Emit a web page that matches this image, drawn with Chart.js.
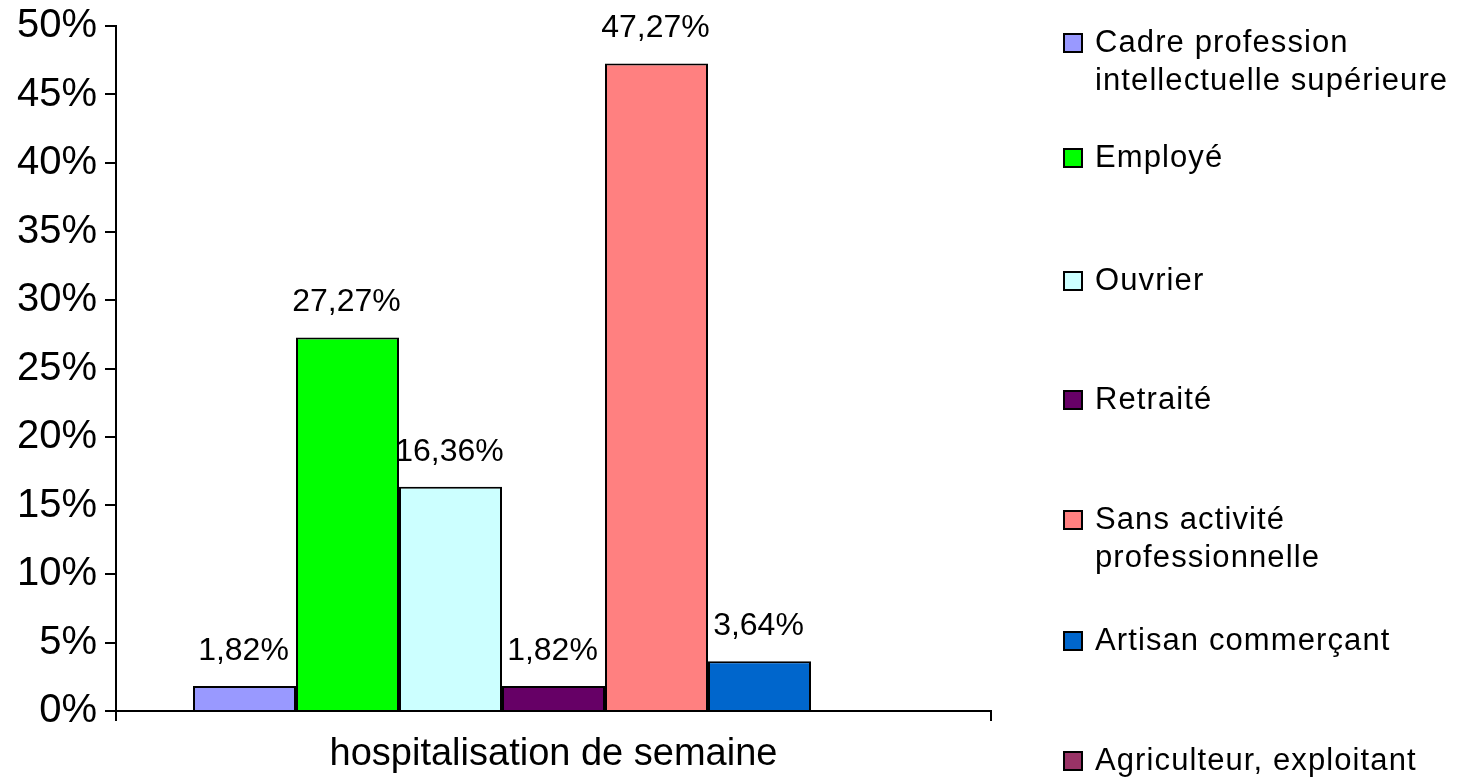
<!DOCTYPE html>
<html>
<head>
<meta charset="utf-8">
<script src="https://cdn.jsdelivr.net/npm/chart.js@4.4.1/dist/chart.umd.min.js"></script>
<style>
  html, body { margin: 0; padding: 0; background: #fff; }
  #wrap { position: relative; width: 1458px; height: 781px; }
  #legend { position: absolute; left: 1063px; top: 0; font-family: "Liberation Sans", Arial, sans-serif; font-size: 31px; letter-spacing: 1.1px; color: #000; }
  .item { position: absolute; left: 0; white-space: nowrap; line-height: 38px; }
  .box { position: absolute; left: 0; top: 10px; width: 16px; height: 16px; border: 2px solid #000; }
  .txt { position: absolute; left: 32px; top: 0; }
</style>
</head>
<body>
<div id="wrap">
  <canvas id="chart" width="1458" height="781"></canvas>
  <div id="legend"></div>
</div>
<script>
const categories = ['hospitalisation de semaine'];
const seriesNames = [
  ['Cadre profession', 'intellectuelle supérieure'],
  ['Employé'],
  ['Ouvrier'],
  ['Retraité'],
  ['Sans activité', 'professionnelle'],
  ['Artisan commerçant'],
  ['Agriculteur, exploitant']
];
const seriesValues = [1.82, 27.27, 16.36, 1.82, 47.27, 3.64, 0];
const seriesColors = ['#9999FF', '#00FF00', '#CCFFFF', '#660066', '#FF8080', '#0066CC', '#993366'];
const yTicks = [0, 5, 10, 15, 20, 25, 30, 35, 40, 45, 50];
const legendTops = [23, 138, 261, 380, 500, 621, 741];

const datasets = seriesNames.map((name, i) => ({
  label: name.join(' '),
  data: [seriesValues[i]],
  backgroundColor: seriesColors[i],
  borderColor: '#000',
  borderWidth: 2,
  borderSkipped: 'bottom'
}));

const valueLabels = {
  id: 'valueLabels',
  afterDatasetsDraw(chart) {
    const ctx = chart.ctx;
    ctx.save();
    ctx.font = '32px "Liberation Sans", Arial, sans-serif';
    ctx.fillStyle = '#000';
    ctx.textAlign = 'center';
    ctx.textBaseline = 'alphabetic';
    chart.data.datasets.forEach((ds, i) => {
      const v = ds.data[0];
      if (!v) return;
      const bar = chart.getDatasetMeta(i).data[0];
      ctx.fillText(v.toFixed(2).replace('.', ',') + '%', bar.x - 1, bar.y - 26);
    });
    ctx.restore();
  }
};

new Chart(document.getElementById('chart'), {
  type: 'bar',
  data: { labels: categories, datasets: datasets },
  options: {
    responsive: false,
    animation: false,
    events: [],
    layout: { padding: { top: 26, right: 467, bottom: 0, left: 0 } },
    plugins: { legend: { display: false }, tooltip: { enabled: false } },
    datasets: { bar: { categoryPercentage: 0.824, barPercentage: 1 } },
    scales: {
      x: {
        grid: { offset: true, drawOnChartArea: false, color: '#000', lineWidth: 2, tickLength: 10 },
        border: { color: '#000', width: 2 },
        ticks: { color: '#000', font: { family: '"Liberation Sans", Arial, sans-serif', size: 38 }, padding: 11 },
        afterFit(scale) { scale.height = 70; }
      },
      y: {
        min: 0,
        max: 50,
        afterBuildTicks(scale) { scale.ticks = yTicks.map(v => ({ value: v })); },
        grid: { drawOnChartArea: false, color: '#000', lineWidth: 2, tickLength: 11 },
        border: { color: '#000', width: 2 },
        ticks: {
          color: '#000',
          padding: 8,
          font: { family: '"Liberation Sans", Arial, sans-serif', size: 40, lineHeight: 0.8 },
          callback: v => v + '%'
        },
        afterFit(scale) { scale.width = 116; }
      }
    }
  },
  plugins: [valueLabels]
});

const legend = document.getElementById('legend');
seriesNames.forEach((name, i) => {
  const item = document.createElement('div');
  item.className = 'item';
  item.style.top = legendTops[i] + 'px';
  const box = document.createElement('div');
  box.className = 'box';
  box.style.background = seriesColors[i];
  const txt = document.createElement('div');
  txt.className = 'txt';
  txt.innerHTML = name.join('<br>');
  item.appendChild(box);
  item.appendChild(txt);
  legend.appendChild(item);
});
</script>
</body>
</html>
